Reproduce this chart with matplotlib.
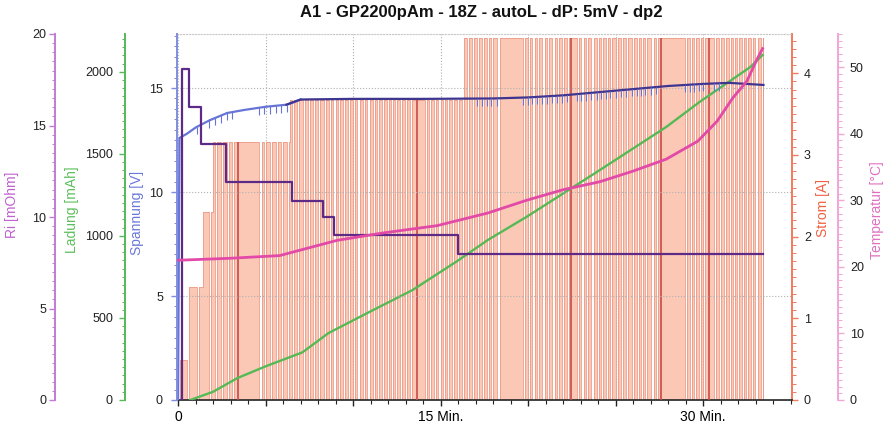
import numpy as np
import matplotlib
matplotlib.use('Agg')
import matplotlib.pyplot as plt
from matplotlib.ticker import MultipleLocator

plt.rcParams['font.family'] = ['Liberation Sans', 'DejaVu Sans']

title = "A1 - GP2200pAm - 18Z - autoL - dP: 5mV - dp2"

# Spannung [V]
t_U = [0.0, 0.08, 0.5, 1.0, 1.8, 2.8, 3.8, 5.0, 6.2, 7.0, 10.0, 14.0, 18.0, 20.0, 22.0, 24.0, 26.0, 28.0, 30.0, 31.5, 33.45]
U = [0.0, 12.6, 12.8, 13.1, 13.45, 13.8, 13.95, 14.1, 14.2, 14.45, 14.48, 14.48, 14.5, 14.55, 14.65, 14.8, 14.95, 15.1, 15.2, 15.25, 15.15]

# Ri [mOhm] (step)
t_Ri = [0.15, 0.2, 0.65, 1.0, 1.3, 2.75, 6.5, 8.3, 8.9, 16.0, 33.45]
Ri = [0.0, 18.1, 16.0, 16.0, 14.0, 11.9, 10.9, 10.0, 9.0, 8.0, 8.0]

# Ladung [mAh]
t_Q = [0.7, 2.0, 3.4, 5.0, 7.1, 8.6, 11.0, 13.4, 16.0, 17.7, 19.9, 24.1, 27.9, 29.8, 32.7, 33.4]
Q = [0, 50, 134, 205, 290, 408, 540, 670, 850, 975, 1115, 1401, 1664, 1816, 2029, 2102]

# Temperatur [°C]
t_T = [0.0, 3.0, 5.8, 9.1, 11.7, 14.8, 17.7, 19.9, 22.0, 24.1, 26.0, 27.9, 29.7, 30.8, 31.7, 32.5, 33.1, 33.4]
T = [21.0, 21.3, 21.7, 24.0, 25.1, 26.2, 28.1, 30.0, 31.6, 32.8, 34.4, 36.2, 38.9, 41.9, 45.4, 47.9, 51.3, 52.8]

# Strom [A]: charge phases and rest pulses
seg_start = [0.12, 0.65, 1.4, 2.0, 6.4, 16.3]
seg_end = [0.5, 1.4, 2.0, 6.4, 16.3, 33.45]
seg_level = [0.49, 1.38, 2.3, 3.16, 3.67, 4.43]
rest_t = [1.07, 1.79, 2.13, 2.46, 2.78, 3.09, 4.65, 4.93, 5.26, 5.6, 5.89, 6.21, 6.51, 6.78,
          7.12, 7.41, 7.7, 7.98, 8.36, 8.61, 8.88, 9.16, 9.41, 9.73, 9.98, 10.25, 10.59, 10.82,
          11.12, 11.39, 11.64, 11.92, 12.15, 12.4, 12.69, 12.97, 13.26, 14.11, 14.36, 14.63,
          14.88, 15.16, 15.39, 15.64, 15.92, 16.21, 16.5, 16.78, 17.07, 17.35, 17.64, 17.9,
          18.25, 19.73, 20.0, 20.25, 20.53, 20.82, 21.1, 21.39, 21.67, 21.96, 22.21, 22.78,
          23.05, 23.3, 23.62, 23.93, 24.15, 24.44, 24.69, 25.0, 25.3, 25.6, 25.96, 26.21, 26.44,
          26.7, 27.05, 27.33, 28.95, 29.24, 29.49, 29.75, 30.0, 30.63, 30.9, 31.2, 31.47, 31.71,
          31.96, 32.23, 32.47, 32.76, 32.99, 33.3]
rest_w = 0.12
dark_t = [3.41, 13.64, 22.48, 27.62, 30.33]

x_ticks = [0, 5, 10, 15, 20, 25, 30]
x_labels = ['0', '', '', '15 Min.', '', '', '30 Min.']

# colours
c_ri_ax, c_ri_line = '#c27ad8', '#5e2a88'
c_q = '#55b955'
c_u_ax, c_u_early, c_u_late = '#7f8de0', '#6675d6', '#3e3590'
c_i_ax, c_i_fill, c_i_line, c_i_dark = '#f07a5c', '#fbc8b6', '#eb9a88', '#c84a4a'
c_t_ax, c_t_line = '#f2a6d6', '#e24aa8'

W, H = 884, 434
PX = 72.0 / 100.0  # points per pixel
fig = plt.figure(figsize=(W / 100, H / 100), dpi=100)
L, R, TOP, BOT = 177, 792, 34, 400
ax = fig.add_axes([L / W, 1 - BOT / H, (R - L) / W, (BOT - TOP) / H])

def level_at(t):
    for s, e, v in zip(seg_start, seg_end, seg_level):
        if s <= t < e:
            return v
    return 0.0

# current step data
edges = sorted(set([0.0] + seg_start + seg_end + rest_t + [r + rest_w for r in rest_t]))
vals = []
for i, e in enumerate(edges):
    nxt = edges[i + 1] if i + 1 < len(edges) else e + 0.01
    mid = 0.5 * (e + nxt)
    v = level_at(mid)
    if any(r <= mid < r + rest_w for r in rest_t):
        v = 0.0
    vals.append(v)
edges = np.array(edges)
vals = np.array(vals)

ax.fill_between(edges, vals, step='post', color=c_i_fill, lw=0, zorder=1)
ax.step(edges, vals, where='post', color=c_i_line, lw=0.6, zorder=2)
ax.vlines(dark_t, 0, [level_at(t) for t in dark_t], color=c_i_dark, lw=1.2, zorder=3)

ax.set_xlim(-0.06, 35.08)
ax.set_ylim(0, 4.48)
ax.set_xticks(x_ticks)
ax.set_xticklabels(x_labels)
ax.xaxis.set_minor_locator(MultipleLocator(1))
ax.tick_params(axis='x', which='major', length=6 * PX, width=1, color='#222222', labelsize=10, pad=3)
ax.tick_params(axis='x', which='minor', length=4 * PX, width=0.8, color='#222222')
ax.spines['bottom'].set_color('#222222')
ax.spines['bottom'].set_linewidth(1.2)
ax.spines['top'].set_color('#c8c8c8')
ax.spines['top'].set_linestyle(':')
ax.grid(axis='x', which='major', color='#b0b0b0', ls=':', lw=0.8)
ax.set_axisbelow(True)

def make_twin(side, offset_px, color):
    a = ax.twinx()
    for s in a.spines.values():
        s.set_visible(False)
    a.spines[side].set_visible(True)
    a.spines[side].set_position(('outward', offset_px * PX))
    a.spines[side].set_color(color)
    a.spines[side].set_linewidth(1.4)
    a.yaxis.set_ticks_position(side)
    a.yaxis.set_label_position(side)
    a.patch.set_visible(False)
    return a

def style_y(a, color, major, minor, pad_px):
    a.yaxis.set_major_locator(MultipleLocator(major))
    a.yaxis.set_minor_locator(MultipleLocator(minor))
    a.tick_params(axis='y', which='major', length=6 * PX, width=1, color=color,
                  labelsize=9, pad=pad_px * PX, labelcolor='#222222')
    a.tick_params(axis='y', which='minor', length=3.5 * PX, width=0.7, color=color)

# Ladung
ax_q = make_twin('left', 52, c_q)
ax_q.plot(t_Q, Q, color=c_q, lw=1.7)
ax_q.set_ylim(0, 2230)
style_y(ax_q, c_q, 500, 50, 6)

# Spannung
ax_u = make_twin('left', 0, c_u_ax)
tU = np.array(t_U)
Ua = np.array(U)
early = tU <= 7.0
late = tU >= 6.2
ax_u.plot(tU[early], Ua[early], color=c_u_early, lw=1.6)
ax_u.plot(tU[late], Ua[late], color=c_u_late, lw=1.6)
dip_t = [r for r in rest_t if r < 6.5 or 17 < r < 31]
dip_u = np.interp(dip_t, t_U, U)
ax_u.vlines(dip_t, dip_u - 0.35, dip_u, color=c_u_early, lw=0.8)
ax_u.set_ylim(0, 17.6)
style_y(ax_u, c_u_ax, 5, 0.5, 8)
ax_u.grid(axis='y', which='major', color='#b0b0b0', ls=':', lw=0.8)

# Ri
ax_ri = make_twin('left', 122, c_ri_ax)
ax_ri.plot(t_Ri, Ri, color=c_ri_line, lw=1.6, drawstyle='steps-post')
ax_ri.set_ylim(0, 20)
style_y(ax_ri, c_ri_ax, 5, 0.5, 3)

# Temperatur
ax_t = make_twin('right', 46, c_t_ax)
ax_t.plot(t_T, T, color=c_t_line, lw=2.0)
ax_t.set_ylim(0, 55)
style_y(ax_t, c_t_ax, 10, 1, 6)

# Strom axis on the right of the main axes (set after twinx calls)
ax.yaxis.set_ticks_position('right')
ax.yaxis.set_label_position('right')
ax.spines['left'].set_visible(False)
ax.spines['right'].set_color(c_i_ax)
ax.spines['right'].set_linewidth(1.4)
style_y(ax, c_i_ax, 1, 0.1, 6)

# axis labels
def vlabel(px, py, text, color):
    fig.text(px / W, 1 - py / H, text, rotation=90, ha='center', va='center', fontsize=10, color=color)

vlabel(12, 205, 'Ri [mOhm]', '#c060d0')
vlabel(72, 210, 'Ladung [mAh]', '#5cbf5c')
vlabel(137, 213, 'Spannung [V]', '#6a78d8')
vlabel(823, 208, 'Strom [A]', '#f06040')
vlabel(877, 210, 'Temperatur [°C]', '#e070c0')

fig.text(481 / W, 1 - 12 / H, title, ha='center', va='center', fontsize=12, fontweight='bold', color='#111111')

fig.savefig('out.png', dpi=100)
